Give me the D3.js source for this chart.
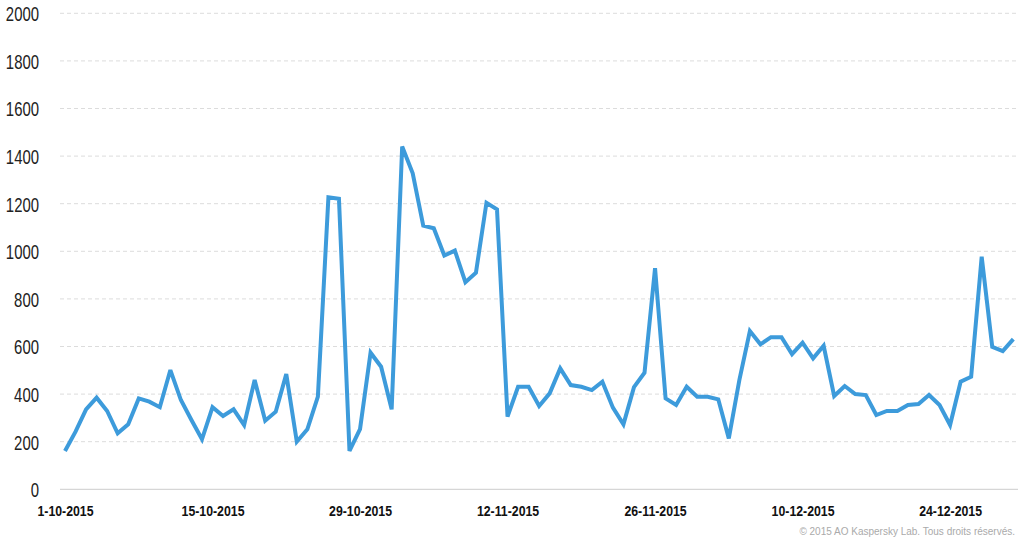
<!DOCTYPE html>
<html>
<head>
<meta charset="utf-8">
<script src="https://cdn.jsdelivr.net/npm/d3@7/dist/d3.min.js"></script>
<style>
  body { margin: 0; background: #fff; }
  .yAxis text { font-family: "Liberation Sans", Arial, sans-serif; font-size: 21px; fill: #222; }
  .xAxis text { font-family: "Liberation Sans", Arial, sans-serif; font-size: 15px; font-weight: bold; fill: #111; }
  .grid line { stroke: #dcdcdc; stroke-dasharray: 4,3; }
  .copy { font-family: "Liberation Sans", Arial, sans-serif; font-size: 10px; fill: #aaa; }
</style>
</head>
<body>
<script>
// daily values, 1 Oct 2015 .. 30 Dec 2015
const startDate = "2015-10-01";
const values = [
  161, 242, 336, 385, 329, 235, 273, 382, 368, 345,
  501, 375, 291, 210, 345, 308, 336, 270, 459, 288,
  326, 484, 200, 252, 389, 1227, 1221, 161, 253, 574,
  515, 336, 1440, 1328, 1108, 1097, 982, 1003, 870, 910,
  1204, 1176, 305, 431, 431, 350, 403, 508, 438, 431,
  417, 452, 343, 273, 429, 490, 929, 382, 354, 431,
  389, 389, 378, 214, 459, 665, 609, 639, 639, 568,
  616, 550, 603, 392, 434, 400, 396, 312, 329, 329,
  354, 358, 396, 354, 270, 452, 473, 977, 599, 581,
  631
];
const yTicks = [0, 200, 400, 600, 800, 1000, 1200, 1400, 1600, 1800, 2000];
const xTickLabels = ["1-10-2015", "15-10-2015", "29-10-2015", "12-11-2015", "26-11-2015", "10-12-2015", "24-12-2015"];
const copyright = "© 2015 AO Kaspersky Lab. Tous droits réservés.";

const w = 1024, h = 545;
const margin = {top: 13.3, bottom: 55.7, plotLeft: 65, plotRight: 1013.3, gridLeft: 60, gridRight: 1018};

const parseDay = d3.timeParse("%Y-%m-%d");
const parseLabel = d3.timeParse("%d-%m-%Y");
const start = parseDay(startDate);
const data = values.map((v, i) => ({date: d3.timeDay.offset(start, i), value: v}));

const svg = d3.select("body").append("svg")
  .attr("width", w)
  .attr("height", h);

const x = d3.scaleTime()
  .domain(d3.extent(data, d => d.date))
  .range([margin.plotLeft, margin.plotRight]);

const y = d3.scaleLinear()
  .domain([0, 2000])
  .range([h - margin.bottom, margin.top]);

// squeeze text horizontally to mimic the condensed font of the original
function condense(sel, k) {
  sel.each(function() {
    const len = this.getComputedTextLength();
    d3.select(this)
      .attr("textLength", len * k)
      .attr("lengthAdjust", "spacingAndGlyphs");
  });
}

// dashed grid
svg.append("g")
  .attr("class", "grid")
  .selectAll("line")
  .data(yTicks.filter(t => t > 0))
  .enter().append("line")
  .attr("x1", margin.gridLeft)
  .attr("x2", margin.gridRight)
  .attr("y1", d => y(d))
  .attr("y2", d => y(d));

// baseline
svg.append("line")
  .attr("x1", margin.gridLeft)
  .attr("x2", margin.gridRight)
  .attr("y1", y(0))
  .attr("y2", y(0))
  .attr("stroke", "#d6d6d6")
  .attr("stroke-width", 1.2);

const yAxis = d3.axisLeft(y)
  .tickValues(yTicks)
  .tickSize(0)
  .tickPadding(0)
  .tickFormat(d3.format("d"));

svg.append("g")
  .attr("class", "yAxis")
  .attr("transform", "translate(39,0)")
  .call(yAxis)
  .call(g => g.select(".domain").remove())
  .selectAll("text")
  .attr("dy", "0.35em")
  .call(condense, 0.71);

const xAxis = d3.axisBottom(x)
  .tickValues(xTickLabels.map(parseLabel))
  .tickSize(0)
  .tickPadding(0)
  .tickFormat(d => xTickLabels[xTickLabels.map(s => +parseLabel(s)).indexOf(+d)]);

svg.append("g")
  .attr("class", "xAxis")
  .attr("transform", `translate(0,${y(0)})`)
  .call(xAxis)
  .call(g => g.select(".domain").remove())
  .selectAll("text")
  .attr("y", 27)
  .attr("dy", 0)
  .call(condense, 0.82);

const line = d3.line()
  .x(d => x(d.date))
  .y(d => y(d.value));

svg.append("path")
  .datum(data)
  .attr("fill", "none")
  .attr("stroke", "#3d9bdb")
  .attr("stroke-width", 4)
  .attr("stroke-linejoin", "miter")
  .attr("stroke-miterlimit", 3)
  .attr("d", line);

svg.append("text")
  .attr("class", "copy")
  .attr("x", 1015)
  .attr("y", 535)
  .attr("text-anchor", "end")
  .text(copyright);
</script>
</body>
</html>
